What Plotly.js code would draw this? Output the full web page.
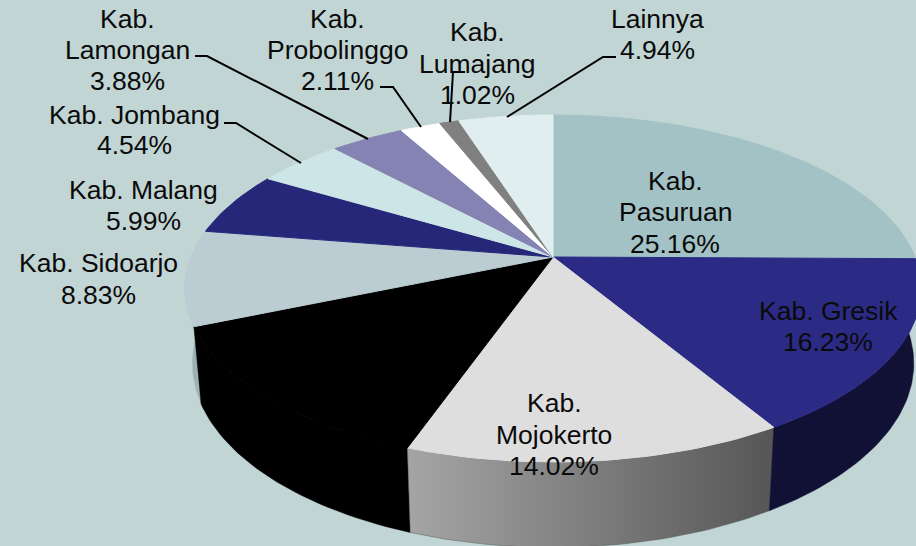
<!DOCTYPE html>
<html>
<head>
<meta charset="utf-8">
<script src="https://cdn.plot.ly/plotly-3.0.1.min.js"></script>
<style>html,body{margin:0;padding:0;background:#C1D5D4;overflow:hidden}</style>
</head>
<body>
<div id="chart" style="width:916px;height:546px"></div>
<script>
// Data (black slice has no legible label: remainder)
const categories = ["Kab. Pasuruan","Kab. Gresik","Kab. Mojokerto","(tanpa label)","Kab. Sidoarjo","Kab. Malang","Kab. Jombang","Kab. Lamongan","Kab. Probolinggo","Kab. Lumajang","Lainnya"];
const shares = [25.16,16.23,14.02,13.28,8.83,5.99,4.54,3.88,2.11,1.02,4.94];
const topColors = ["#A3C2C5","#2B2B85","#DEDEDE","#000000","#BBCDD3","#27277A","#CCE5E7","#8583B3","#FFFFFF","#808080","#E0EEF0"];

// Which slices show a side wall, back to front, and its fill
const wallOrder = [4,3,2,1];
const wallFills = {
  4:["#8FA6AA","#AFC4C6"],
  3:["#000000","#000000"],
  2:["#A5A5A5","#565656"],
  1:["#111135","#111135"]
};

// Label text lines with anchor points
const labelLines = [
  ["Kab.",127,19],["Lamongan",127,50],["3.88%",127,81],
  ["Kab. Jombang",134,115],["4.54%",134,145],
  ["Kab. Malang",143,190],["5.99%",143,221],
  ["Kab. Sidoarjo",98,263],["8.83%",98,295],
  ["Kab.",337,19],["Probolinggo",337,50],["2.11%",337,81],
  ["Kab.",477,32],["Lumajang",477,64],["1.02%",477,95],
  ["Lainnya",657,19],["4.94%",657,50],
  ["Kab.",675,181],["Pasuruan",675,212],["25.16%",675,244],
  ["Kab. Gresik",828,311],["16.23%",828,342],
  ["Kab.",554,403],["Mojokerto",554,435],["14.02%",554,466]
];
const leaderX = [[195,207,368],[224,236,301],[380,393,421],[465,453,450],[616,603,507]];
const leaderY = [[56,56,139],[123,123,163],[87,87,127],[72,72,122],[57,57,117]];

// Tilted-disc projection
const view = {cx:553, cy:257, a:167.8, b:362, k:0.1816, lowScale:0.98, lowCy:330, lowA:178};
function upper(t){const u=Math.cos(t),d=1+view.k*u;return [view.cx+view.b*Math.sin(t)/d, view.cy-view.a*u/d];}
function lower(t){const u=Math.cos(t),d=1+view.k*u;return [view.cx+view.lowScale*view.b*Math.sin(t)/d, view.lowCy-view.lowA*u/d];}
const total = shares.reduce((a,b)=>a+b,0);
const starts=[]; let acc=0;
shares.forEach(s=>{starts.push(acc/total*2*Math.PI);acc+=s;});
function arc(i,fn,rev){
  const a=starts[i],b=a+shares[i]/total*2*Math.PI,n=Math.max(6,Math.ceil(shares[i]*3)),pts=[];
  for(let j=0;j<=n;j++){pts.push(fn(a+(b-a)*j/n));}
  return rev?pts.reverse():pts;
}
const traces=[];
wallOrder.forEach(i=>{
  const p=arc(i,upper).concat(arc(i,lower,true));p.push(p[0]);
  const f=wallFills[i];
  const t={type:"scatter",mode:"lines",x:p.map(q=>q[0]),y:p.map(q=>q[1]),name:categories[i]+" sisi",
    fill:"toself",line:{width:0.5,color:f[1]},hoverinfo:"skip"};
  if(f[0]===f[1]){t.fillcolor=f[0];}
  else{t.fillgradient={type:"horizontal",colorscale:[[0,f[0]],[1,f[1]]]};}
  traces.push(t);
});
categories.forEach((c,i)=>{
  const p=[[view.cx,view.cy]].concat(arc(i,upper));p.push(p[0]);
  traces.push({type:"scatter",mode:"lines",x:p.map(q=>q[0]),y:p.map(q=>q[1]),name:c,
    fill:"toself",fillcolor:topColors[i],line:{width:1,color:topColors[i]},hoverinfo:"skip"});
});
leaderX.forEach((xs,i)=>{
  traces.push({type:"scatter",mode:"lines",x:xs,y:leaderY[i],line:{width:2,color:"#000000"},hoverinfo:"skip",name:"leader"});
});
const layout={
  width:916,height:546,margin:{l:0,r:0,t:0,b:0},showlegend:false,
  paper_bgcolor:"#C1D5D4",plot_bgcolor:"#C1D5D4",
  xaxis:{range:[0,916],visible:false,fixedrange:true},
  yaxis:{range:[546,0],visible:false,fixedrange:true},
  annotations:labelLines.map(l=>({text:l[0],x:l[1],y:l[2],xref:"x",yref:"y",showarrow:false,xanchor:"center",yanchor:"middle",
    font:{family:"Liberation Sans, Arial, sans-serif",size:26.5,color:"#0A0A0A"}}))
};
Plotly.newPlot("chart",traces,layout,{staticPlot:true,displayModeBar:false});
</script>
</body>
</html>
